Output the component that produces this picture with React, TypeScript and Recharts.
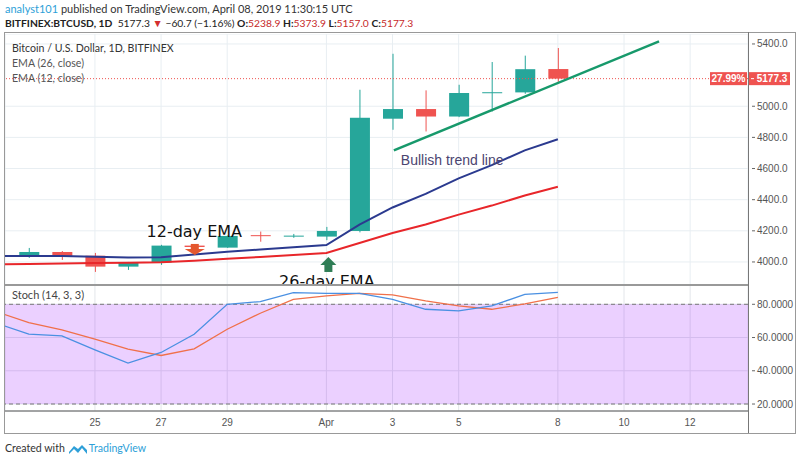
import React from "react";
import {
    Bar,
    CartesianGrid,
    ComposedChart,
    Line,
    LineChart,
    ReferenceArea,
    ReferenceDot,
    ReferenceLine,
    XAxis,
    YAxis
} from "recharts";

// day number: March d = d, April 1 = 32
const days = [22, 23, 24, 25, 26, 27, 28, 29, 30, 31, 32, 33, 34, 35, 36, 37, 38, 39];
const opens = [null, 4039, 4064, 4040, 3970, 3996, 4105, 4092, 4172, 4165, 4163, 4199, 4920, 4982, 4934, 5085, 5089, 5238.9];
const highs = [null, 4090, 4070, 4058, 4000, 4110, 4115, 4170, 4195, 4180, 4225, 5106, 5337, 5102, 5138, 5284, 5325, 5373.9];
const lows = [null, 4026, 4013, 3936, 3949, 3981, 4085, 4090, 4130, 4155, 4140, 4190, 4849, 4838, 4930, 4966, 5080, 5157.0];
const closes = [null, 4064, 4039, 3970, 3996, 4105, 4096, 4167, 4166, 4169, 4199, 4926, 4982, 4934, 5085, 5090, 5238, 5177.3];
const ema12 = [4039, 4039, 4038, 4033, 4028, 4030, 4048, 4065, 4080, 4094, 4109, 4240, 4350, 4437, 4537, 4622, 4717, 4788];
const ema26 = [3985, 3987, 3990, 3993, 3995, 3998, 4008, 4020, 4032, 4045, 4057, 4122, 4186, 4241, 4304, 4362, 4427, 4483];
const stochK = [68.8, 62, 61, 52.6, 44.6, 51, 62, 80, 81.6, 87, 86.6, 86.6, 83, 77, 76, 79, 86, 87.2];
const stochD = [75.6, 69, 64.6, 59, 53, 49.2, 53.2, 65, 74.6, 83, 85, 86.6, 85.6, 82, 79, 77, 80.2, 84.2];

const dateTicks = [25, 27, 29, 32, 34, 36, 39, 41, 43];
const dateLabels = ["25", "27", "29", "Apr", "3", "5", "8", "10", "12"];
// 5200 sits under the last-price label, so it is left out
const priceTicks = [4000, 4200, 4400, 4600, 4800, 5000, 5400];
const stochTicks = [20, 40, 60, 80];

const lastPrice = 5177.3;
const trendLine = [{ x: 34.04, y: 4716 }, { x: 42.06, y: 5417 }];

const data = days.map((d, i) => ({
    day: d,
    open: opens[i],
    high: highs[i],
    low: lows[i],
    close: closes[i],
    ema12: ema12[i],
    ema26: ema26[i],
    k: stochK[i],
    d: stochD[i],
}));

const X_DOMAIN = [22.28, 44.75];
const AXIS_FONT = "'Liberation Sans', Arial, sans-serif";
const UI_FONT = "Lato, 'Liberation Sans', sans-serif";
const UP = "#26a69a";
const DOWN = "#ef5350";

const Candle = (props: any) => {
    const { x, y, width, height, payload } = props;
    if (payload.open == null) return null;
    const top = height < 0 ? y + height : y;
    const h = Math.abs(height);
    const ratio = h / (payload.high - payload.low);
    const up = payload.close >= payload.open;
    const color = up ? UP : DOWN;
    const bodyTop = top + (payload.high - Math.max(payload.open, payload.close)) * ratio;
    const bodyH = Math.max(1, Math.abs(payload.open - payload.close) * ratio);
    const cx = x + width / 2;
    return (
        <g>
            <line x1={cx} x2={cx} y1={top} y2={top + h} stroke={color} strokeWidth={1} />
            <rect x={x} y={bodyTop} width={width} height={bodyH} fill={color} />
        </g>
    );
};

const rightTick = (digits: number) => (p: any) => (
    <g>
        <line x1={p.x + 4} x2={p.x + 7} y1={p.y} y2={p.y} stroke="#666" />
        <text x={p.x + 9} y={p.y} dy={3.5} fontSize={10} fill="#555" fontFamily={AXIS_FONT}>
            {Number(p.payload.value).toFixed(digits)}
        </text>
    </g>
);

export default function App() {
    return (
        <div style={{ position: "absolute", left: 0, top: 0, width: 800, height: 462, background: "#fff", overflow: "hidden" }}>
            {/* header */}
            <div style={{ position: "absolute", left: 5, top: 2, fontFamily: UI_FONT, fontSize: 11, color: "#333", whiteSpace: "nowrap" }}>
                <span style={{ color: "#2e9fd8" }}>analyst101</span> published on TradingView.com, April 08, 2019 11:30:15 UTC
            </div>
            <div style={{ position: "absolute", left: 5, top: 17, fontFamily: UI_FONT, fontSize: 10.3, color: "#222", whiteSpace: "nowrap" }}>
                <b>BITFINEX:BTCUSD, 1D</b>&nbsp; 5177.3 <span style={{ color: "#d32f2f" }}>▼</span> −60.7 (−1.16%) <b>O:</b>
                <span style={{ color: "#c62828" }}>5238.9</span> <b>H:</b><span style={{ color: "#c62828" }}>5373.9</span>{" "}
                <b>L:</b><span style={{ color: "#c62828" }}>5157.0</span> <b>C:</b><span style={{ color: "#c62828" }}>5177.3</span>
            </div>

            {/* price pane */}
            <div style={{ position: "absolute", left: 0, top: 34 }}>
                <ComposedChart width={800} height={251} data={data} margin={{ top: 0, right: 0, bottom: 0, left: 5 }}>
                    <CartesianGrid stroke="#e8eef2" />
                    <XAxis dataKey="day" type="number" domain={X_DOMAIN} allowDataOverflow ticks={dateTicks} hide />
                    <YAxis
                        orientation="right"
                        width={52}
                        domain={[3852, 5464]}
                        allowDataOverflow
                        ticks={priceTicks}
                        axisLine={false}
                        tickLine={false}
                        tickSize={0}
                        tickMargin={0}
                        tick={rightTick(1)}
                    />
                    <ReferenceLine y={lastPrice} stroke={DOWN} strokeDasharray="1 2" />
                    <Bar dataKey={(d: any) => (d.open == null ? null : [d.low, d.high])} barSize={20} shape={Candle} isAnimationActive={false} />
                    <Line type="linear" dataKey="ema26" stroke="#e8262a" strokeWidth={2} dot={false} isAnimationActive={false} />
                    <Line type="linear" dataKey="ema12" stroke="#2b3a8f" strokeWidth={2} dot={false} isAnimationActive={false} />
                    <ReferenceLine segment={trendLine} stroke="#17996b" strokeWidth={2.5} ifOverflow="visible" />
                    <ReferenceDot
                        x={28.02}
                        y={4045}
                        shape={(p: any) => (
                            <g fill="#e4572e">
                                <rect x={p.cx - 4} y={p.cy - 11} width={8} height={6} />
                                <polygon points={`${p.cx - 10},${p.cy - 6} ${p.cx + 10},${p.cy - 6} ${p.cx},${p.cy}`} />
                            </g>
                        )}
                    />
                    <ReferenceDot
                        x={32.06}
                        y={4032}
                        shape={(p: any) => (
                            <g fill="#2e7d55">
                                <polygon points={`${p.cx - 8},${p.cy + 8} ${p.cx + 8},${p.cy + 8} ${p.cx},${p.cy}`} />
                                <rect x={p.cx - 4} y={p.cy + 7} width={8} height={8} />
                            </g>
                        )}
                    />
                    <ReferenceDot
                        x={26.56}
                        y={4161}
                        shape={(p: any) => (
                            <text x={p.cx} y={p.cy} fontSize={16} fill="#111" fontFamily="'DejaVu Sans', sans-serif">12-day EMA</text>
                        )}
                    />
                    <ReferenceDot
                        x={30.57}
                        y={3917}
                        shape={(p: any) => (
                            <text x={p.cx} y={p.cy + 12} fontSize={16} fill="#111" fontFamily="'DejaVu Sans', sans-serif">26-day EMA</text>
                        )}
                    />
                    <ReferenceDot
                        x={34.25}
                        y={4623}
                        shape={(p: any) => (
                            <text x={p.cx} y={p.cy} fontSize={14} fill="#4a4470" fontFamily={AXIS_FONT}>Bullish trend line</text>
                        )}
                    />
                    <ReferenceDot
                        x={X_DOMAIN[1]}
                        y={lastPrice}
                        ifOverflow="visible"
                        shape={(p: any) => (
                            <g fontFamily={AXIS_FONT} fontSize={10} fontWeight="bold">
                                <rect x={p.cx - 38} y={p.cy - 6.5} width={37} height={13} fill={DOWN} />
                                <text x={p.cx - 19.5} y={p.cy + 3.5} textAnchor="middle" fill="#fff">27.99%</text>
                                <rect x={p.cx} y={p.cy - 6.5} width={42} height={13} fill={DOWN} />
                                <line x1={p.cx + 3} x2={p.cx + 6} y1={p.cy} y2={p.cy} stroke="#fff" />
                                <text x={p.cx + 24} y={p.cy + 3.5} textAnchor="middle" fill="#fff">5177.3</text>
                            </g>
                        )}
                    />
                </ComposedChart>
            </div>

            {/* legend texts */}
            <div style={{ position: "absolute", left: 12, top: 41, fontFamily: UI_FONT, fontSize: 10.6, color: "#333", lineHeight: "15px" }}>
                <div>Bitcoin / U.S. Dollar, 1D, BITFINEX</div>
                <div style={{ color: "#555" }}>EMA (26, close)</div>
                <div style={{ color: "#555" }}>EMA (12, close)</div>
            </div>

            {/* stochastic pane */}
            <div style={{ position: "absolute", left: 0, top: 285 }}>
                <LineChart width={800} height={148} data={data} margin={{ top: 0, right: 0, bottom: 0, left: 5 }}>
                    <ReferenceArea y1={20} y2={80} fill="#9915ff" fillOpacity={0.2} stroke="none" ifOverflow="hidden" />
                    <CartesianGrid stroke="#e3e6ea" />
                    <XAxis
                        dataKey="day"
                        type="number"
                        domain={X_DOMAIN}
                        allowDataOverflow
                        ticks={dateTicks}
                        height={22}
                        tickLine={false}
                        tickSize={0}
                        tickMargin={8}
                        axisLine={{ stroke: "#555" }}
                        tick={{ fontSize: 10, fill: "#555", fontFamily: AXIS_FONT }}
                        tickFormatter={(v: number) => dateLabels[dateTicks.indexOf(v)]}
                    />
                    <YAxis
                        orientation="right"
                        width={52}
                        domain={[15.8, 91.6]}
                        allowDataOverflow
                        ticks={stochTicks}
                        axisLine={false}
                        tickLine={false}
                        tickSize={0}
                        tickMargin={0}
                        tick={rightTick(4)}
                    />
                    <ReferenceLine y={80} stroke="#777" strokeDasharray="4 3" />
                    <ReferenceLine y={20} stroke="#777" strokeDasharray="4 3" />
                    <Line type="linear" dataKey="d" stroke="#f0704a" strokeWidth={1.3} dot={false} isAnimationActive={false} />
                    <Line type="linear" dataKey="k" stroke="#4a90e2" strokeWidth={1.3} dot={false} isAnimationActive={false} />
                </LineChart>
            </div>
            <div style={{ position: "absolute", left: 12, top: 288, fontFamily: UI_FONT, fontSize: 11, color: "#444" }}>Stoch (14, 3, 3)</div>

            {/* frame lines */}
            <div style={{ position: "absolute", left: 4, top: 32, width: 790, height: 400, border: "1px solid #999" }} />
            <div style={{ position: "absolute", left: 748, top: 32, width: 1, height: 401, background: "#777" }} />
            <div style={{ position: "absolute", left: 4, top: 284, width: 744, height: 2, background: "#999" }} />

            {/* footer */}
            <div style={{ position: "absolute", left: 5, top: 442, fontFamily: UI_FONT, fontSize: 10.6, color: "#333", display: "flex", alignItems: "center", whiteSpace: "nowrap" }}>
                <span>Created with</span>
                <svg width={18} height={11} style={{ margin: "0 2px 0 4px" }}>
                    <path d="M0 9 L5 3 L9 6 L13 2 L18 7 L18 11 L13 5 L9 10 L5 6 L0 11 Z" fill="#2e9fd8" />
                </svg>
                <span style={{ color: "#2e9fd8" }}>TradingView</span>
            </div>
        </div>
    );
}
